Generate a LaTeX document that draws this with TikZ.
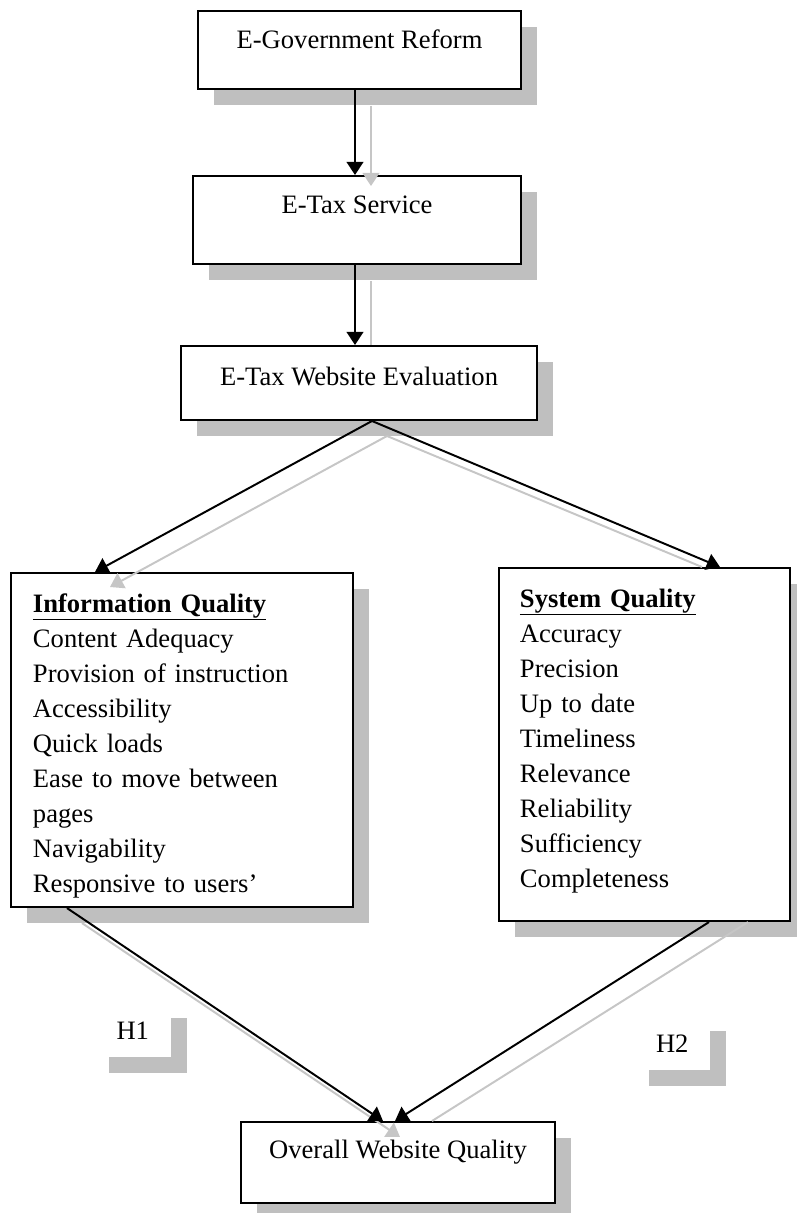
\documentclass[tikz,border=0pt]{standalone}
\usepackage{fontspec}
\setmainfont{Liberation Serif}
\usetikzlibrary{arrows.meta,calc,shadows}
\definecolor{shade}{RGB}{191,191,191}
\definecolor{arrowshade}{RGB}{198,198,198}

\begin{document}
\begin{tikzpicture}[x=0.025cm,y=-0.025cm,
  box/.style={draw=black,line width=1.4pt,fill=white,anchor=north west,inner ysep=0pt,
    font=\fontsize{18.9}{24.9}\selectfont,
    drop shadow={shadow xshift=0.39cm,shadow yshift=-0.39cm,fill=shade,opacity=1}},
  tag/.style={fill=white,anchor=north west,inner sep=0pt,
    font=\fontsize{18.9}{24.9}\selectfont,
    drop shadow={shadow xshift=0.38cm,shadow yshift=-0.38cm,fill=shade,opacity=1}},
  arr/.style={black,line width=1.4pt,-{Triangle[length=0.33cm,width=0.42cm]}},
  shd/.style={arrowshade,line width=1.4pt},
  shdarr/.style={shd,-{Triangle[length=0.33cm,width=0.42cm]}}]
\useasboundingbox (0,0) rectangle (797,1213);

\node[box,inner xsep=0pt,minimum width=8.075cm,text height=0.925cm,text depth=1.025cm] (gov) at (197,10) {E-Government Reform};
\node[box,inner xsep=0pt,minimum width=8.2cm,text height=0.925cm,text depth=1.275cm] (tax) at (192,175) {E-Tax Service};
\node[box,inner xsep=0pt,minimum width=8.9cm,text height=0.975cm,text depth=0.875cm] (eval) at (180,345) {E-Tax Website Evaluation};

\node[box,align=left,text width=7.45cm,inner xsep=0.55cm,text height=0.975cm,text depth=7.375cm] (info) at (10,572)
  {\underline{\textbf{Information Quality}}\\Content Adequacy\\Provision of instruction\\Accessibility\\Quick loads\\Ease to move between\\pages\\Navigability\\Responsive to users’};
\node[box,align=left,text width=6.225cm,inner xsep=0.525cm,text height=0.975cm,text depth=7.85cm] (sys) at (498,567)
  {\underline{\textbf{System Quality}}\\Accuracy\\Precision\\Up to date\\Timeliness\\Relevance\\Reliability\\Sufficiency\\Completeness};

\node[tag,minimum width=1.925cm,minimum height=1.35cm] (h1) at (94,1003) {H1};
\node[tag,minimum width=1.9cm,minimum height=1.35cm] (h2) at (634,1016) {H2};

\node[box,inner xsep=0pt,minimum width=7.85cm,text height=0.9cm,text depth=1.125cm] (overall) at (240,1121) {Overall Website Quality};

\draw[shdarr] ($(gov.south west)+(174,16)$) -- ($(tax.north west)+(179,11)$);
\draw[shd] ($(tax.south west)+(179,16)$) -- ($(eval.north west)+(191,0)$);
\draw[shdarr] ($(eval.south west)+(207,15)$) -- ($(info.north west)+(100,15)$);
\draw[shd] ($(eval.south west)+(207,15)$) -- ($(sys.north west)+(204,0)$);
\draw[shdarr] ($(info.south west)+(72,15)$) -- ($(overall.north west)+(160,16)$);
\draw[shd] ($(sys.south west)+(250,0)$) -- ($(overall.north west)+(192,0)$);

\draw[arr] ($(gov.south west)+(158,0)$) -- ($(tax.north west)+(163,0)$);
\draw[arr] ($(tax.south west)+(163,0)$) -- ($(eval.north west)+(175,0)$);
\draw[arr] ($(eval.south west)+(192,0)$) -- ($(info.north west)+(85,0)$);
\draw[arr] ($(eval.south west)+(192,0)$) -- ($(sys.north west)+(222,0)$);
\draw[arr] ($(info.south west)+(57,0)$) -- ($(overall.north west)+(143,0)$);
\draw[arr] ($(sys.south west)+(211,0)$) -- ($(overall.north west)+(155,0)$);
\end{tikzpicture}
\end{document}
